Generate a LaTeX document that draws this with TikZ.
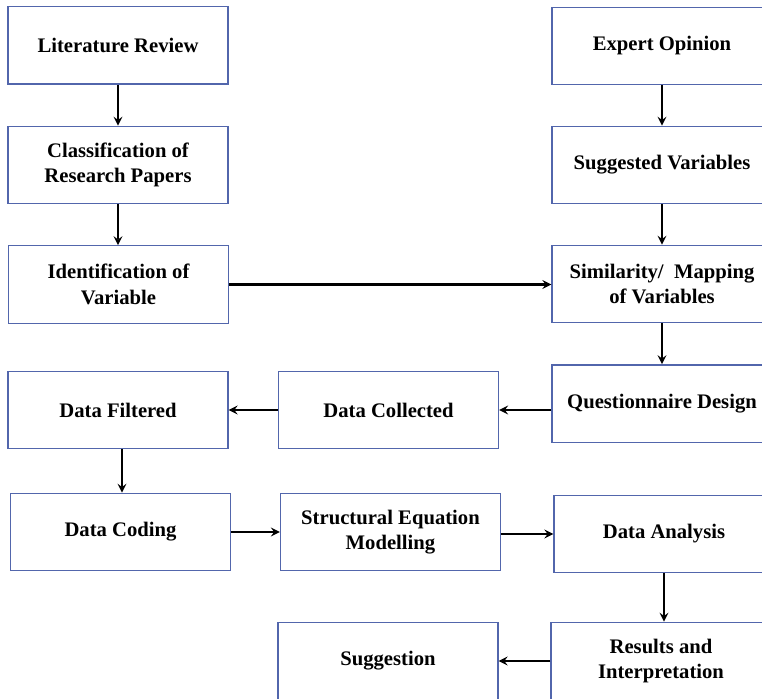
\documentclass[tikz,border=0pt]{standalone}
\usepackage{fontspec}
\setmainfont{Liberation Serif}
\usepackage{tikz}
\definecolor{boxline}{RGB}{82,102,172}

\begin{document}
\begin{tikzpicture}
            [x=0.75pt,y=-0.75pt,->,>=stealth,line width=1.9pt,
            box/.style={draw=boxline,line width=1pt,fill=white,minimum width=165pt,minimum height=58pt,
                text centered,align=center,inner sep=0pt,
                font=\fontsize{15.5}{19}\selectfont\bfseries}]
            \useasboundingbox (0,0) rectangle (762,698);
            % left column
            \node[box] (lit) at (118,45.5) {Literature Review};
            \node[box] (cls) at (118,165) {Classification of\\Research Papers};
            \node[box] (idv) at (118.5,284.5) {Identification of\\Variable};
            % right column
            \node[box] (exp) at (662,46) {Expert Opinion};
            \node[box] (sug) at (662,165) {Suggested Variables};
            \node[box] (sim) at (662,284) {Similarity/\ \ Mapping\\of Variables};
            \node[box] (que) at (662,403.5) {Questionnaire Design};
            % data rows
            \node[box] (col) at (388.5,410) {Data Collected};
            \node[box] (fil) at (118,410) {Data Filtered};
            \node[box] (cod) at (120.5,532) {Data Coding};
            \node[box] (sem) at (390.5,532) {Structural Equation\\Modelling};
            \node[box] (ana) at (664,534) {Data Analysis};
            \node[box] (res) at (661,661) {Results and\\Interpretation};
            \node[box] (sgn) at (388,661) {Suggestion};
            \coordinate (fc) at (122,449);

            \draw (lit) -- (cls);
            \draw (cls.south) -- (cls.south |- idv.north);
            \draw (exp) -- (sug);
            \draw (sug) -- (sim);
            \draw (idv.east) -- (idv.east -| sim.west);
            \draw (sim) -- (que);
            \draw (que.west |- col.east) -- (col.east);
            \draw (col) -- (fil);
            \draw (fc) -- (fc |- cod.north);
            \draw (cod) -- (sem);
            \draw (sem.east |- ana.west) -- (ana.west);
            \draw (ana) -- (ana |- res.north);
            \draw (res) -- (sgn);
        \end{tikzpicture}
\end{document}
